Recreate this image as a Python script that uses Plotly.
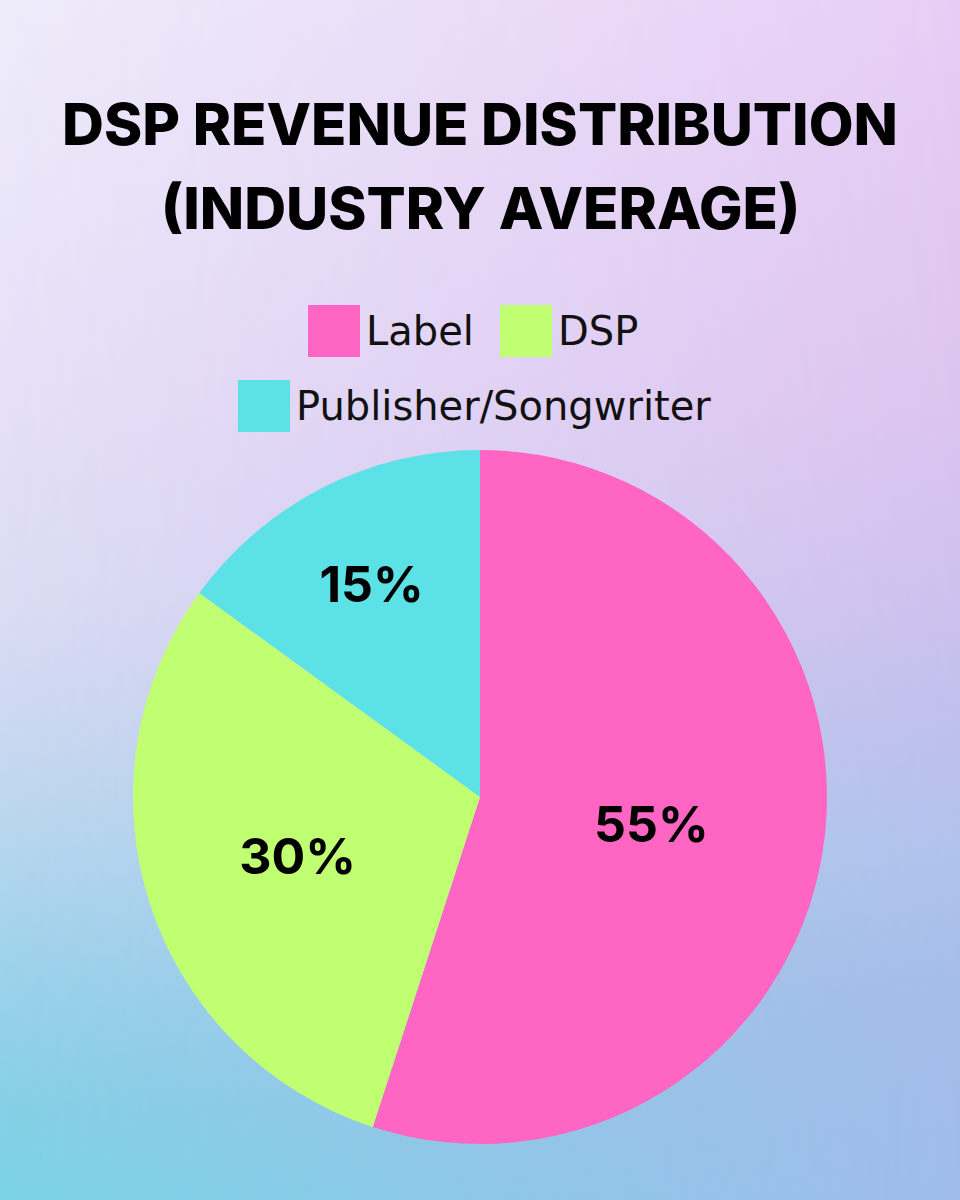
import base64
import plotly.graph_objects as go

# data
labels = ["Label", "DSP", "Publisher/Songwriter"]
shares = [55, 30, 15]
colors = ["#ff66c4", "#c1ff72", "#5ce1e6"]
title_lines = ["DSP REVENUE DISTRIBUTION", "(INDUSTRY AVERAGE)"]

# background gradient (left edge colours blended into right edge colours)
left_stops = [(0, "#eeecfa"), (0.33, "#e6e0f8"), (0.5, "#dcdcf4"), (0.62, "#c8d8f0"),
              (0.71, "#b4d6ee"), (0.83, "#98d2ea"), (0.92, "#86d0e6"), (1, "#7bd3e6")]
right_stops = [(0, "#e7cdf5"), (0.33, "#dcc4f0"), (0.5, "#cec0ee"), (0.62, "#bcc0ec"),
               (0.71, "#b0c2ec"), (0.83, "#a4bce8"), (1, "#a0bcea")]


def stops(s):
    return "".join(f'<stop offset="{o}" stop-color="{c}"/>' for o, c in s)


svg = f'''<svg xmlns="http://www.w3.org/2000/svg" width="960" height="1200" viewBox="0 0 960 1200">
<defs>
<linearGradient id="l" x1="0" y1="0" x2="0" y2="1">{stops(left_stops)}</linearGradient>
<linearGradient id="r" x1="0" y1="0" x2="0" y2="1">{stops(right_stops)}</linearGradient>
<linearGradient id="h" x1="0" y1="0" x2="1" y2="0"><stop offset="0" stop-color="#000"/><stop offset="1" stop-color="#fff"/></linearGradient>
<mask id="m"><rect width="960" height="1200" fill="url(#h)"/></mask>
</defs>
<rect width="960" height="1200" fill="url(#l)"/>
<rect width="960" height="1200" fill="url(#r)" mask="url(#m)"/>
</svg>'''
bg = "data:image/svg+xml;base64," + base64.b64encode(svg.encode()).decode()

W, H = 960, 1200

fig = go.Figure(go.Pie(
    labels=labels,
    values=shares,
    sort=False,
    direction="clockwise",
    rotation=0,
    marker=dict(colors=colors, line=dict(width=0)),
    texttemplate="%{percent:.0%}",
    textposition="inside",
    insidetextorientation="horizontal",
    insidetextfont=dict(family="Inter", size=50, color="#000000", weight=700),
    hoverinfo="label+percent",
    domain=dict(x=[133 / W, 827 / W], y=[56 / H, 750 / H]),
    showlegend=False,
))

# title, two lines
for i, line in enumerate(title_lines):
    fig.add_annotation(
        text=line, x=0.5, y=1 - (124 + i * 84) / H, xref="paper", yref="paper",
        showarrow=False, xanchor="center", yanchor="middle",
        font=dict(family="Inter", size=58, color="#000000", weight=800),
    )

# legend: swatches + names
legend_rows = [[0, 1], [2]]
legend_x = [[308, 500], [238]]
legend_y = [331, 406]
for row, xs, yc in zip(legend_rows, legend_x, legend_y):
    for idx, x0 in zip(row, xs):
        fig.add_shape(type="rect", xref="paper", yref="paper",
                      x0=x0 / W, x1=(x0 + 52) / W,
                      y0=1 - (yc + 26) / H, y1=1 - (yc - 26) / H,
                      fillcolor=colors[idx], line=dict(width=0))
        fig.add_annotation(
            text=labels[idx], x=(x0 + 56) / W, y=1 - yc / H, xref="paper", yref="paper",
            showarrow=False, xanchor="left", yanchor="middle",
            font=dict(family="DejaVu Sans", size=40, color="#111111"),
        )

fig.update_layout(
    width=W, height=H,
    margin=dict(l=0, r=0, t=0, b=0),
    paper_bgcolor="#e4dcf4",
    plot_bgcolor="rgba(0,0,0,0)",
    images=[dict(source=bg, xref="paper", yref="paper", x=0, y=1,
                 sizex=1, sizey=1, xanchor="left", yanchor="top",
                 sizing="stretch", layer="below")],
)

fig.write_html("out.html", config={"displayModeBar": False},
               post_script="document.body.style.margin='0';")
